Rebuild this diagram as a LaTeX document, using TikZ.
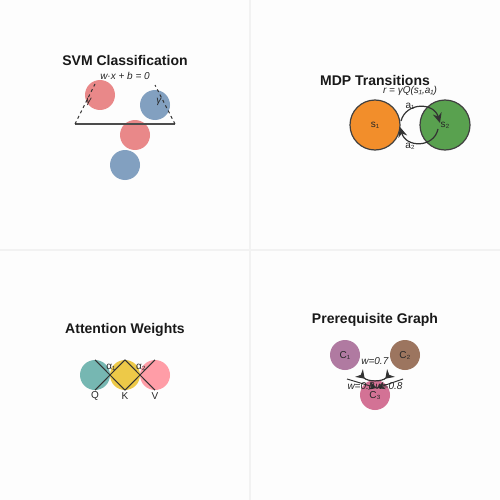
\documentclass[tikz,border=0pt]{standalone}
\usepackage{fontspec}
\setmainfont{Liberation Sans}
\usetikzlibrary{arrows.meta}
\usepackage{xcolor}

\definecolor{bgcol}{HTML}{FDFDFD}
\definecolor{gridcol}{HTML}{F2F2F2}
\definecolor{svmred}{HTML}{E15759}
\definecolor{svmblue}{HTML}{4E79A7}
\definecolor{mdporange}{HTML}{F28E2B}
\definecolor{mdpgreen}{HTML}{59A14F}
\definecolor{atteal}{HTML}{76B7B2}
\definecolor{atyellow}{HTML}{EDC948}
\definecolor{atpink}{HTML}{FF9DA7}
\definecolor{prpurple}{HTML}{B07AA1}
\definecolor{prbrown}{HTML}{9C755F}
\definecolor{prpink}{HTML}{D37295}

\begin{document}
\begin{tikzpicture}[x=1pt,y=-1pt,
		title/.style={font=\fontsize{14}{16}\selectfont\bfseries, text=black!90},
		lbl/.style={font=\fontsize{10}{12}\selectfont, inner sep=0pt, text=black!85},
		dot/.style={circle, minimum size=30pt, inner sep=0pt},
		state/.style={circle, minimum size=50pt, inner sep=0pt, draw=black!75, line width=1.2pt},
		link/.style={black!80, line width=1.2pt}]
		% Background and panel dividers
		\fill[bgcol] (0,0) rectangle (500,500);
		\useasboundingbox (0,0) rectangle (500,500);
		\draw[gridcol, line width=2pt] (250,0) -- (250,500);
		\draw[gridcol, line width=2pt] (0,250) -- (500,250);
		
		% SVM panel
		\node[title] (svmtitle) at (125,60) {SVM Classification};
		\node[lbl] (svmeq) at (125,76) {\textit{w·x + b = 0}};
		\foreach \name/\x/\y/\col in {ra/100/95/svmred, ba/155/105/svmblue, rb/135/135/svmred, bb/125/165/svmblue} {
			\node[dot, fill=\col, fill opacity=0.7] (\name) at (\x,\y) {};
		}
		\coordinate (hl) at (75,124);
		\coordinate (hr) at (175,124);
		\coordinate (ml) at (95,84);
		\coordinate (mr) at (155,85);
		\draw[black!70, line width=1.8pt] (hl) -- (hr);
		\draw[black!80, dashed, line width=1pt] (hl) -- (ml);
		\draw[black!80, dashed, line width=1pt] (hr) -- (mr);
		\node[lbl] (gl) at (89,102) {\textit{γ}};
		\node[lbl] (gr) at (159,102) {\textit{γ}};
		
		% MDP panel
		\node[title] (mdptitle) at (375,80) {MDP Transitions};
		\node[lbl] (mdpeq) at (410,91) {\textit{r = γQ(s₁,a₁)}};
		\node[state, fill=mdporange] (s1) at (375,125) {};
		\node[state, fill=mdpgreen] (s2) at (445,125) {};
		\node[lbl] at (s1) {s₁};
		\node[lbl] at (s2) {s₂};
		\coordinate (ta) at (401,121);
		\coordinate (tb) at (440,123);
		\coordinate (ba) at (438,129);
		\coordinate (bb) at (400,127);
		\draw[link, -{Stealth[length=10pt,width=9pt]}] (ta) .. controls (406,102) and (434,102) .. (tb);
		\draw[link, -{Stealth[length=10pt,width=9pt]}] (ba) .. controls (434,148) and (406,148) .. (bb);
		\node[lbl] (a1) at (410,106) {a₁};
		\node[lbl] (a2) at (410,146) {a₂};
		
		% Attention panel
		\node[title] (attitle) at (125,330) {Attention Weights};
		\foreach \name/\x/\col in {Q/95/atteal, K/125/atyellow, V/155/atpink} {
			\node[dot, fill=\col] (\name) at (\x,375) {};
			\node[lbl] (\name lbl) at (\x,396) {\name};
		}
		\draw[link, line width=1pt] (Q.north) -- (K.south);
		\draw[link, line width=1pt] (Q.south) -- (K.north);
		\draw[link, line width=1pt] (K.north) -- (V.south);
		\draw[link, line width=1pt] (K.south) -- (V.north);
		\node[lbl] (al1) at (111,367) {α₁};
		\node[lbl] (al2) at (141,367) {α₂};
		
		% Prerequisite panel
		\node[title] (prtitle) at (375,320) {Prerequisite Graph};
		\node[dot, fill=prpurple] (C1) at (345,355) {};
		\node[dot, fill=prbrown] (C2) at (405,355) {};
		\node[dot, fill=prpink] (C3) at (375,395) {};
		\node[lbl] at (C1) {C₁};
		\node[lbl] at (C2) {C₂};
		\node[lbl] at (C3) {C₃};
		\coordinate (pl) at (359,373);
		\coordinate (pr) at (391,373);
		\draw[link, {Stealth[length=8pt,width=11pt,reversed]}-{Stealth[length=8pt,width=11pt,reversed]}] (pl) .. controls (368,382) and (382,382) .. (pr);
		\coordinate (ql) at (347,379);
		\coordinate (qr) at (403,379);
		\coordinate (qm) at (377,388);
		\draw[link, line width=1pt, -{Stealth[length=8pt,width=8pt]}] (ql) -- (qm);
		\draw[link, line width=1pt, -{Stealth[length=8pt,width=8pt]}] (qr) -- (qm);
		\node[lbl] (w1) at (375,361) {\textit{w=0.7}};
		\node[lbl] (w2) at (361,386) {\textit{w=0.8}};
		\node[lbl] (w3) at (389,386) {\textit{w=0.8}};
	\end{tikzpicture}
\end{document}
